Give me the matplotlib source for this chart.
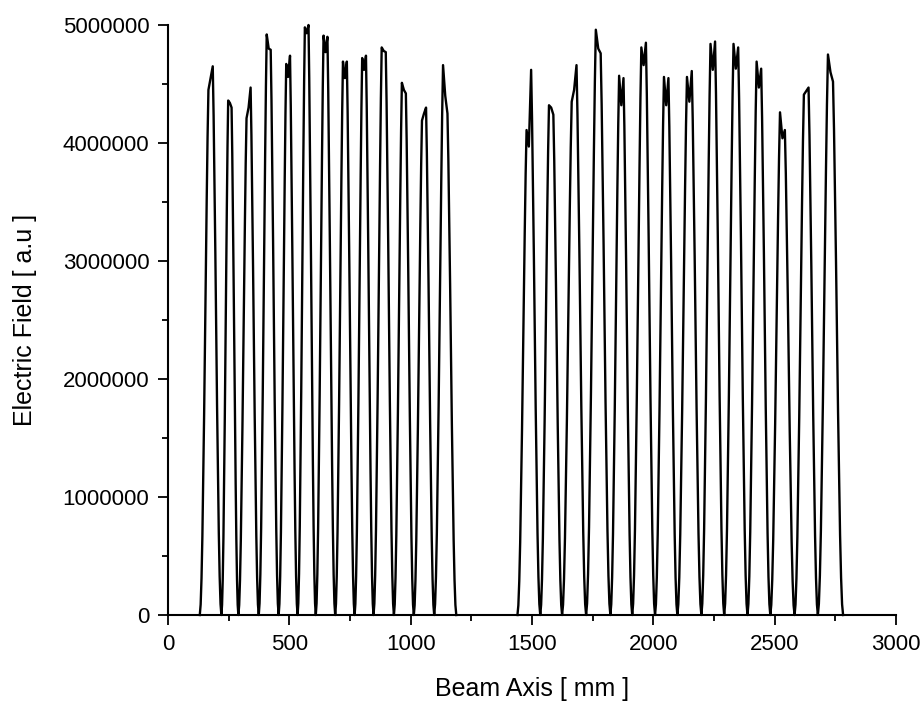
#!/usr/bin/env python

import numpy as np
import matplotlib
matplotlib.use('Agg')
from matplotlib import pyplot as plt
from matplotlib.ticker import MultipleLocator

# cell boundaries (zeros of the field) along the beam axis, mm
BOUNDS_1 = [131, 220, 290, 374, 456, 534, 609, 689, 769, 847, 931, 1013, 1097, 1188]
BOUNDS_2 = [1440, 1534, 1624, 1723, 1823, 1913, 2007, 2099, 2198, 2292, 2388,
            2482, 2582, 2678, 2782]

# top of each cell: left bump, middle, right bump (a.u.)
TOP_LEFT = [4.45e6, 4.36e6, 4.21e6, 4.92e6, 4.67e6, 4.98e6, 4.91e6, 4.69e6, 4.72e6,
            4.81e6, 4.51e6, 4.19e6, 4.66e6,
            4.11e6, 4.32e6, 4.35e6, 4.96e6, 4.57e6, 4.81e6, 4.56e6, 4.56e6, 4.84e6,
            4.84e6, 4.69e6, 4.26e6, 4.41e6, 4.75e6]
TOP_MID = [4.55e6, 4.34e6, 4.30e6, 4.80e6, 4.56e6, 4.93e6, 4.77e6, 4.55e6, 4.62e6,
           4.78e6, 4.45e6, 4.25e6, 4.40e6,
           3.97e6, 4.30e6, 4.45e6, 4.80e6, 4.32e6, 4.66e6, 4.32e6, 4.35e6, 4.62e6,
           4.63e6, 4.47e6, 4.04e6, 4.44e6, 4.60e6]
TOP_RIGHT = [4.65e6, 4.30e6, 4.47e6, 4.79e6, 4.74e6, 5.00e6, 4.90e6, 4.69e6, 4.74e6,
             4.77e6, 4.42e6, 4.30e6, 4.25e6,
             4.62e6, 4.24e6, 4.66e6, 4.76e6, 4.55e6, 4.85e6, 4.55e6, 4.61e6, 4.86e6,
             4.81e6, 4.63e6, 4.11e6, 4.47e6, 4.52e6]

# flank of one cell: fraction of cell width / fraction of top value
RISE_F = [0.0, 0.04, 0.08, 0.12, 0.16, 0.20, 0.24, 0.28, 0.32, 0.36]
RISE_Y = [0.0, 0.02, 0.07, 0.15, 0.26, 0.38, 0.52, 0.66, 0.79, 0.91]
TOP_F = [0.40, 0.50, 0.60]


def BuildCurve(bounds, tl, tm, tr):
    xs = []
    ys = []
    fall_f = [1 - f for f in RISE_F[::-1]]
    for i in range(len(bounds) - 1):
        x0 = bounds[i]
        w = bounds[i + 1] - x0
        ff = RISE_F + TOP_F + fall_f
        yy = [r * tl[i] for r in RISE_Y] + [tl[i], tm[i], tr[i]] + \
             [r * tr[i] for r in RISE_Y[::-1]]
        if i > 0:
            ff = ff[1:]
            yy = yy[1:]
        xs += [x0 + f * w for f in ff]
        ys += yy
    return xs, ys


def MakePlot():
    plt.rcParams['font.family'] = ['Liberation Sans', 'DejaVu Sans']
    fig = plt.figure(figsize=(9.24, 7.06), dpi=100)
    axe = fig.add_axes([168 / 924, 1 - 615 / 706, 728 / 924, 590 / 706])

    n1 = len(BOUNDS_1) - 1
    x1, y1 = BuildCurve(BOUNDS_1, TOP_LEFT[:n1], TOP_MID[:n1], TOP_RIGHT[:n1])
    x2, y2 = BuildCurve(BOUNDS_2, TOP_LEFT[n1:], TOP_MID[n1:], TOP_RIGHT[n1:])
    axe.plot(x1, y1, c='black', lw=1.7, clip_on=False)
    axe.plot(x2, y2, c='black', lw=1.7, clip_on=False)

    axe.set_xlim(0, 3000)
    axe.set_ylim(0, 5000000)
    axe.xaxis.set_major_locator(MultipleLocator(500))
    axe.xaxis.set_minor_locator(MultipleLocator(250))
    axe.yaxis.set_major_locator(MultipleLocator(1000000))
    axe.yaxis.set_minor_locator(MultipleLocator(500000))
    axe.ticklabel_format(style='plain', useOffset=False)
    axe.tick_params(which='major', direction='out', length=7.5, width=1.3,
                    labelsize=16, pad=6)
    axe.tick_params(which='minor', direction='out', length=4, width=1.3)
    axe.spines['right'].set_visible(False)
    axe.spines['top'].set_visible(False)
    axe.spines['left'].set_linewidth(1.5)
    axe.spines['bottom'].set_linewidth(1.5)
    axe.set_xlabel('Beam Axis [ mm ]', fontsize=18, labelpad=16)
    axe.set_ylabel('Electric Field [ a.u ]', fontsize=18, labelpad=18)
    plt.savefig('out.png', dpi=100)


def main():
    MakePlot()


if __name__ == '__main__':
    main()
